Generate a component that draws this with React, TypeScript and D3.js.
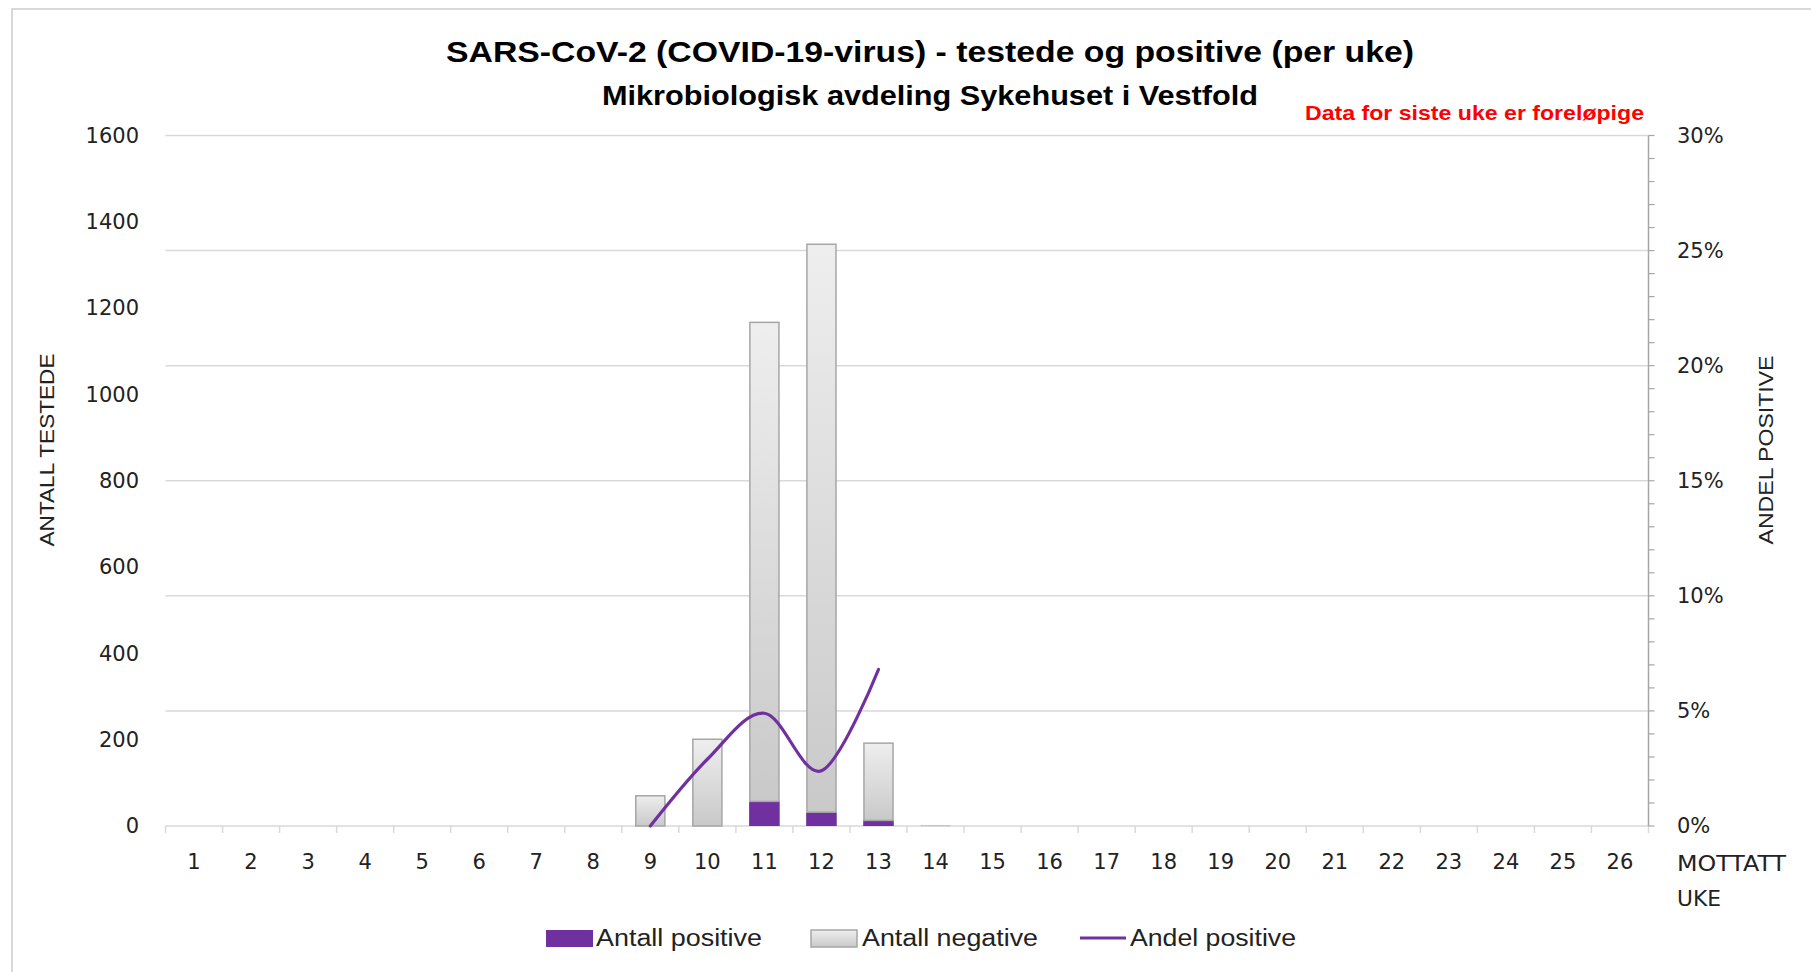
import React from "react";
import * as d3 from "d3";

const weeks = Array.from({ length: 26 }, (_, i) => String(i + 1));
const positives = [0, 0, 0, 0, 0, 0, 0, 0, 0, 5, 57, 32, 13, 0, 0, 0, 0, 0, 0, 0, 0, 0, 0, 0, 0, 0];
const negatives = [0, 0, 0, 0, 0, 0, 0, 0, 70, 196, 1110, 1316, 179, 2, 0, 0, 0, 0, 0, 0, 0, 0, 0, 0, 0, 0];
const sharePositive: (number | null)[] = [null, null, null, null, null, null, null, null, 0, 0.029, 0.049, 0.024, 0.068, null, null, null, null, null, null, null, null, null, null, null, null, null];
const leftTicks = [0, 200, 400, 600, 800, 1000, 1200, 1400, 1600];
const rightTicks = [0, 0.05, 0.1, 0.15, 0.2, 0.25, 0.3];
const rightMinorTicks = d3.range(0, 31).map((d) => d / 100);

const W = 1811;
const H = 972;
const L = 165.5;
const R = 1648.5;
const T = 135.5;
const B = 826;
const PURPLE = "#7030a0";
const NARROW = "'Liberation Sans Narrow', 'Liberation Sans', Arial, sans-serif";
const VERD = "'DejaVu Sans', Verdana, sans-serif";

export default function App() {
  const x = d3.scaleBand<string>().domain(weeks).range([L, R]).paddingInner(0).paddingOuter(0);
  const yL = d3.scaleLinear().domain([0, 1600]).range([B, T]);
  const yR = d3.scaleLinear().domain([0, 0.3]).range([B, T]);
  const bw = x.bandwidth() * 0.51;

  const linePts = weeks
    .map((w, i) => ({ w, v: sharePositive[i] }))
    .filter((d) => d.v !== null) as { w: string; v: number }[];
  const lineGen = d3
    .line<{ w: string; v: number }>()
    .x((d) => (x(d.w) as number) + x.bandwidth() / 2)
    .y((d) => yR(d.v))
    .curve(d3.curveCatmullRom.alpha(0));

  const boundaries = d3.range(0, weeks.length + 1).map((i) => L + i * x.bandwidth());

  return (
    <svg width={W} height={H} style={{ position: "absolute", left: 0, top: 0, background: "#fff" }}>
      <defs>
        <linearGradient id="negGrad" x1="0" y1="0" x2="0" y2="1">
          <stop offset="0" stopColor="#eeeeee" />
          <stop offset="1" stopColor="#c9c9c9" />
        </linearGradient>
      </defs>
      <rect x={0} y={0} width={W} height={H} fill="#fff" />
      <rect x={12} y={9} width={W + 20} height={H + 20} fill="none" stroke="#d9d9d9" strokeWidth={2} />

      {/* titles */}
      <text x={930} y={62} textAnchor="middle" fontFamily={NARROW} fontWeight="bold" fontSize={30} fill="#000" textLength={968} lengthAdjust="spacingAndGlyphs">
        SARS-CoV-2 (COVID-19-virus) - testede og positive (per uke)
      </text>
      <text x={930} y={105} textAnchor="middle" fontFamily={NARROW} fontWeight="bold" fontSize={27} fill="#000" textLength={656} lengthAdjust="spacingAndGlyphs">
        Mikrobiologisk avdeling Sykehuset i Vestfold
      </text>
      <text x={1305} y={120} fontFamily={NARROW} fontWeight="bold" fontSize={20} fill="#ff0000" textLength={339} lengthAdjust="spacingAndGlyphs">
        Data for siste uke er foreløpige
      </text>

      {/* gridlines */}
      {rightTicks.map((t) => (
        <line key={"g" + t} x1={L} x2={R} y1={yR(t)} y2={yR(t)} stroke="#d9d9d9" strokeWidth={1.5} />
      ))}

      {/* x axis ticks */}
      {boundaries.map((bx, i) => (
        <line key={"xt" + i} x1={bx} x2={bx} y1={B} y2={B + 7} stroke="#d9d9d9" strokeWidth={1.5} />
      ))}

      {/* bars */}
      {weeks.map((w, i) => {
        const cx = (x(w) as number) + x.bandwidth() / 2;
        const p = positives[i];
        const n = negatives[i];
        if (p + n === 0) return null;
        const big = p / (p + n) > 0.03 || p > 20;
        return (
          <g key={"b" + w}>
            {p > 0 && big && (
              <rect x={cx - bw / 2 - 0.75} y={yL(p)} width={bw + 1.5} height={yL(0) - yL(p)} fill={PURPLE} />
            )}
            {n > 0 && (
              <rect
                x={cx - bw / 2}
                y={yL(p + n)}
                width={bw}
                height={(big ? yL(p) : yL(0)) - yL(p + n)}
                fill="url(#negGrad)"
                stroke="#a6a6a6"
                strokeWidth={n < 10 ? 0.3 : 1.5}
              />
            )}
          </g>
        );
      })}

      {/* share line */}
      <path d={lineGen(linePts) || ""} fill="none" stroke={PURPLE} strokeWidth={3.2} strokeLinecap="round" />

      {/* right axis */}
      <line x1={R} x2={R} y1={T} y2={B} stroke="#a6a6a6" strokeWidth={1.5} />
      {rightMinorTicks.map((t) => (
        <line key={"rt" + t} x1={R} x2={R + 6} y1={yR(t)} y2={yR(t)} stroke="#a6a6a6" strokeWidth={1.2} />
      ))}
      {rightTicks.map((t) => (
        <text key={"rl" + t} x={1677} y={yR(t)} dy="0.35em" fontFamily={VERD} fontSize={21} fill="#222">
          {Math.round(t * 100) + "%"}
        </text>
      ))}

      {/* left labels */}
      {leftTicks.map((t) => (
        <text key={"ll" + t} x={139} y={yL(t)} dy="0.35em" textAnchor="end" fontFamily={VERD} fontSize={21} fill="#222">
          {t}
        </text>
      ))}

      {/* x labels */}
      {weeks.map((w) => (
        <text key={"xl" + w} x={(x(w) as number) + x.bandwidth() / 2} y={862} dy="0.35em" textAnchor="middle" fontFamily={VERD} fontSize={21} fill="#222">
          {w}
        </text>
      ))}
      <text x={1677} y={864} dy="0.35em" fontFamily={VERD} fontSize={21} fill="#222" textLength={109} lengthAdjust="spacingAndGlyphs">MOTTATT</text>
      <text x={1677} y={899} dy="0.35em" fontFamily={VERD} fontSize={21} fill="#222" textLength={44} lengthAdjust="spacingAndGlyphs">UKE</text>

      {/* axis titles */}
      <text transform={`translate(54,450) rotate(-90)`} textAnchor="middle" fontFamily={NARROW} fontSize={21} fill="#222" textLength={193} lengthAdjust="spacingAndGlyphs">
        ANTALL TESTEDE
      </text>
      <text transform={`translate(1773,450) rotate(-90)`} textAnchor="middle" fontFamily={NARROW} fontSize={21} fill="#222" textLength={189} lengthAdjust="spacingAndGlyphs">
        ANDEL POSITIVE
      </text>

      {/* legend */}
      <rect x={546} y={930} width={47} height={17} fill={PURPLE} />
      <text x={596} y={938} dy="0.35em" fontFamily={NARROW} fontSize={23} fill="#222" textLength={166} lengthAdjust="spacingAndGlyphs">Antall positive</text>
      <rect x={811} y={930} width={46} height={17} fill="url(#negGrad)" stroke="#a6a6a6" strokeWidth={1.5} />
      <text x={862} y={938} dy="0.35em" fontFamily={NARROW} fontSize={23} fill="#222" textLength={176} lengthAdjust="spacingAndGlyphs">Antall negative</text>
      <line x1={1080} x2={1126} y1={938} y2={938} stroke={PURPLE} strokeWidth={3} />
      <text x={1130} y={938} dy="0.35em" fontFamily={NARROW} fontSize={23} fill="#222" textLength={166} lengthAdjust="spacingAndGlyphs">Andel positive</text>
    </svg>
  );
}
